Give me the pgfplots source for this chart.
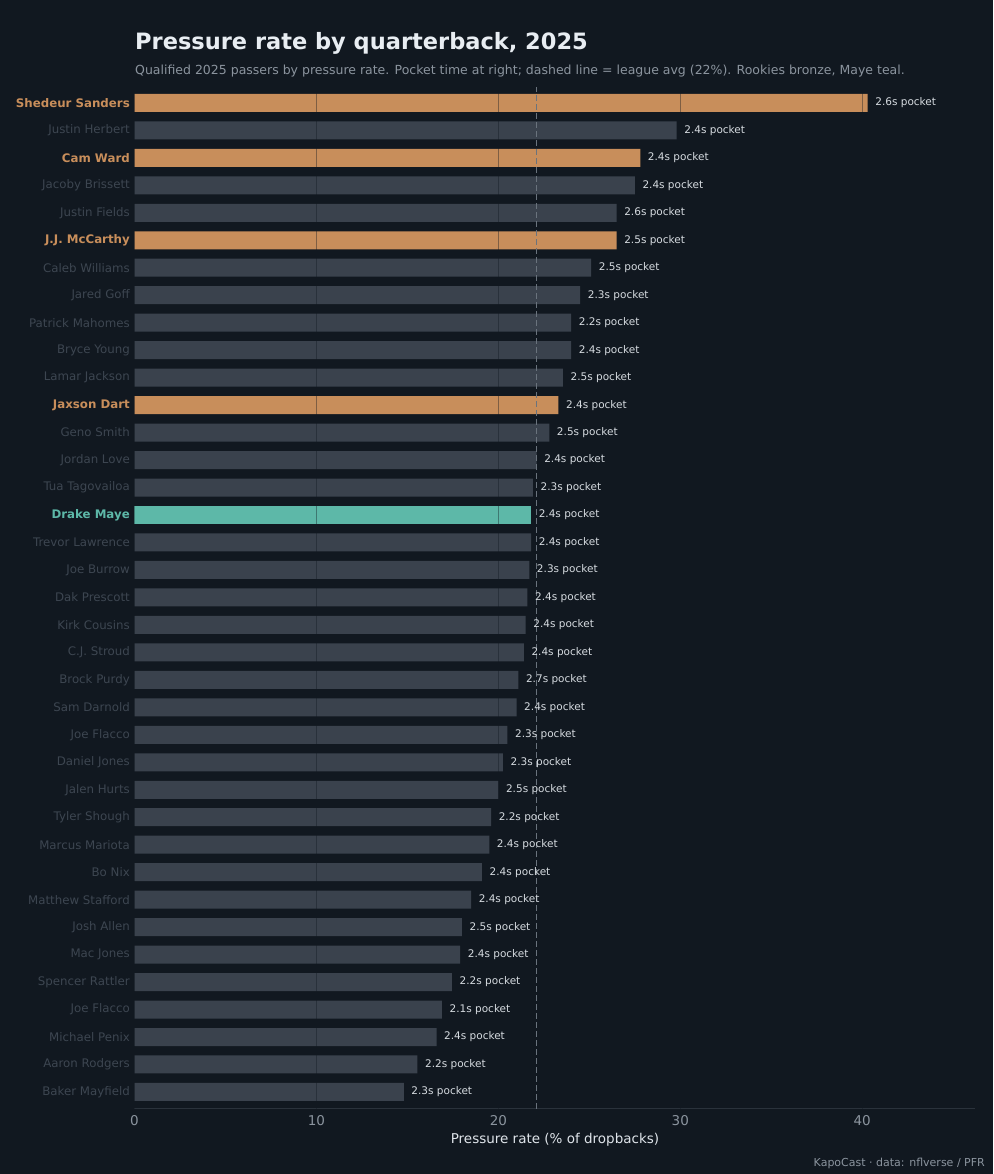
\documentclass[border=0pt]{standalone}
\usepackage{pgfplots}
\pgfplotsset{compat=1.18}
\usetikzlibrary{backgrounds,calc}
\usepackage{fontspec}
\setmainfont{DejaVu Sans}
\definecolor{bg}{HTML}{111820}
\definecolor{barc}{HTML}{3A424D}
\definecolor{rookie}{HTML}{C88E5B}
\definecolor{maye}{HTML}{5DB8A8}
\definecolor{dimc}{HTML}{3D4651}
\definecolor{tickc}{HTML}{8B949E}
\definecolor{titlec}{HTML}{E8EDF2}
\definecolor{valc}{HTML}{D6DBE0}
\definecolor{avgc}{HTML}{6A737D}
\definecolor{axisc}{HTML}{2A323B}
\begin{document}
\begin{tikzpicture}
\begin{axis}[
  scale only axis,
  width=840.5pt, height=1022pt,
  xmin=0, xmax=46.2, ymin=-0.62, ymax=36.58,
  xbar, bar width=18pt, bar shift=0pt,
  clip=false, axis on top,
  axis line style={draw=none},
  tick pos=left,
  major tick length=0pt,
  xtick={0,10,20,30,40},
  /pgf/number format/assume math mode=true,
  xticklabel style={text=tickc, font=\fontsize{13.5}{16}\selectfont, inner sep=0pt, yshift=-6pt},
  xmajorgrids,
  x grid style={draw=bg, draw opacity=0.4, line width=1.2pt},
  ytick={0,...,36},
  yticklabel style={text=dimc, font=\fontsize{11.8}{14}\selectfont, inner sep=0pt, xshift=-4.5pt},
  yticklabels={Baker Mayfield, Aaron Rodgers, Michael Penix, Joe Flacco, Spencer Rattler, Mac Jones, Josh Allen, Matthew Stafford, Bo Nix, Marcus Mariota, Tyler Shough, Jalen Hurts, Daniel Jones, Joe Flacco, Sam Darnold, Brock Purdy, C.J. Stroud, Kirk Cousins, Dak Prescott, Joe Burrow, Trevor Lawrence, {\bfseries\color{maye}Drake Maye}, Tua Tagovailoa, Jordan Love, Geno Smith, {\bfseries\color{rookie}Jaxson Dart}, Lamar Jackson, Bryce Young, Patrick Mahomes, Jared Goff, Caleb Williams, {\bfseries\color{rookie}J.J. McCarthy}, Justin Fields, Jacoby Brissett, {\bfseries\color{rookie}Cam Ward}, Justin Herbert, {\bfseries\color{rookie}Shedeur Sanders}},
  nodes near coords,
  point meta=explicit symbolic,
  every node near coord/.append style={anchor=west, inner sep=0pt, xshift=7.5pt, text=valc, font=\fontsize{10.5}{13}\selectfont},
]
\coordinate (BL) at (rel axis cs:0,0);
\draw[axisc, line width=1pt] (rel axis cs:0,0) -- (rel axis cs:1,0);
\addplot[fill=barc, draw=none] coordinates {
(29.8,35) [2.4s pocket]
(27.5,33) [2.4s pocket]
(26.5,32) [2.6s pocket]
(25.1,30) [2.5s pocket]
(24.5,29) [2.3s pocket]
(24.0,28) [2.2s pocket]
(24.0,27) [2.4s pocket]
(23.55,26) [2.5s pocket]
(22.8,24) [2.5s pocket]
(22.1,23) [2.4s pocket]
(21.9,22) [2.3s pocket]
(21.8,20) [2.4s pocket]
(21.7,19) [2.3s pocket]
(21.6,18) [2.4s pocket]
(21.5,17) [2.4s pocket]
(21.4,16) [2.4s pocket]
(21.1,15) [2.7s pocket]
(21.0,14) [2.4s pocket]
(20.5,13) [2.3s pocket]
(20.25,12) [2.3s pocket]
(20.0,11) [2.5s pocket]
(19.6,10) [2.2s pocket]
(19.5,9) [2.4s pocket]
(19.1,8) [2.4s pocket]
(18.5,7) [2.4s pocket]
(18.0,6) [2.5s pocket]
(17.9,5) [2.4s pocket]
(17.45,4) [2.2s pocket]
(16.9,3) [2.1s pocket]
(16.6,2) [2.4s pocket]
(15.55,1) [2.2s pocket]
(14.8,0) [2.3s pocket]
};
\addplot[fill=rookie, draw=none] coordinates {
(40.3,36) [2.6s pocket]
(27.8,34) [2.4s pocket]
(26.5,31) [2.5s pocket]
(23.3,25) [2.4s pocket]
};
\addplot[fill=maye, draw=none] coordinates {
(21.8,21) [2.4s pocket]
};
\draw[avgc, line width=1.4pt, dash pattern=on 6pt off 3pt] (axis cs:22.1,-0.62) -- (axis cs:22.1,36.58);
\end{axis}
\node[anchor=base west, inner sep=0pt, text=titlec, font=\bfseries\fontsize{22.5}{26}\selectfont] at ($(BL)+(0.5pt,1059pt)$) {Pressure rate by quarterback, 2025};
\node[anchor=base west, inner sep=0pt, text=tickc, font=\fontsize{12.5}{14}\selectfont] at ($(BL)+(0.5pt,1034.5pt)$) {Qualified 2025 passers by pressure rate. Pocket time at right; dashed line = league avg (22\%). Rookies bronze, Maye teal.};
\node[anchor=base, inner sep=0pt, text=titlec!90!tickc, font=\fontsize{13.5}{16}\selectfont] at ($(BL)+(420.5pt,-34pt)$) {Pressure rate (\% of dropbacks)};
\node[anchor=base east, inner sep=0pt, text=tickc, font=\fontsize{11}{13}\selectfont] at ($(BL)+(850.5pt,-57pt)$) {KapoCast · data: nflverse / PFR};
\begin{scope}[on background layer]
\fill[bg] ($(BL)+(-134.5pt,-65pt)$) rectangle ($(BL)+(858.5pt,1109pt)$);
\end{scope}
\pgfresetboundingbox
\path[use as bounding box] ($(BL)+(-134.5pt,-65pt)$) rectangle ($(BL)+(858.5pt,1109pt)$);
\end{tikzpicture}
\end{document}
